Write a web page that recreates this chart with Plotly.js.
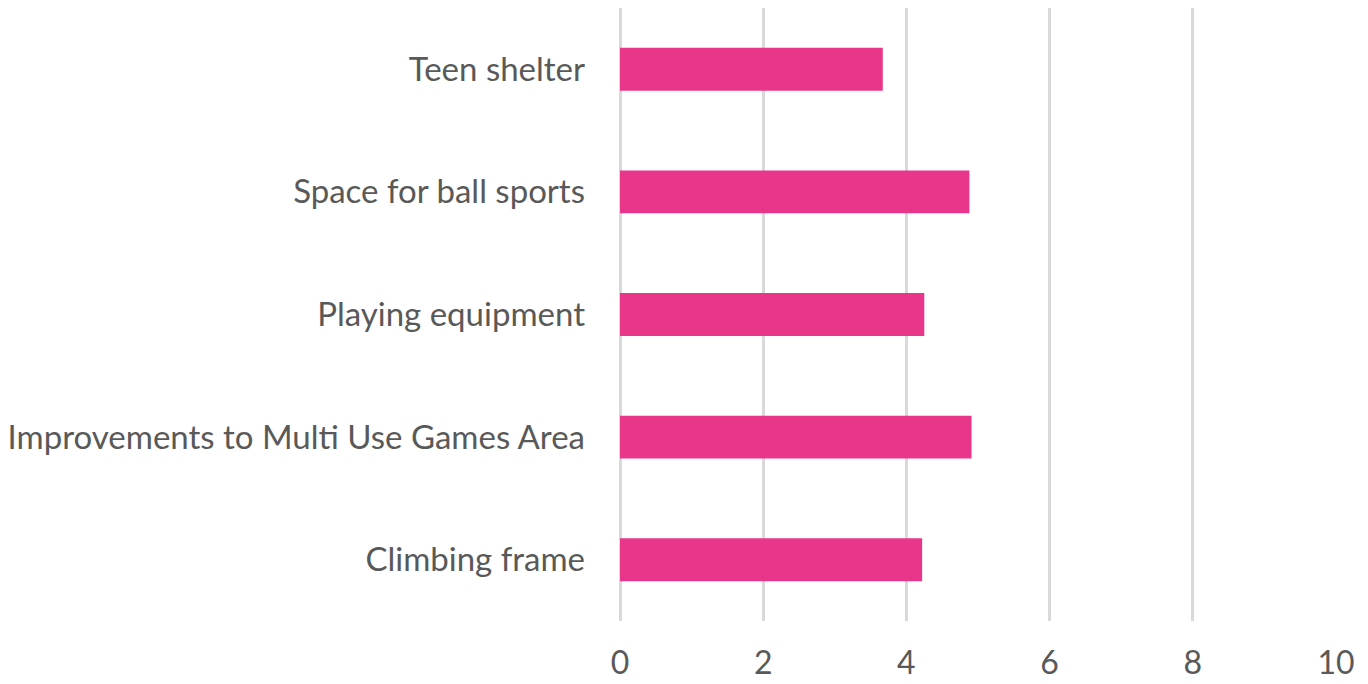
<!DOCTYPE html>
<html><head><meta charset="utf-8">
<script src="https://cdn.plot.ly/plotly-3.0.1.min.js"></script>
<style>html,body{margin:0;padding:0;background:#fff}#chart{width:1368px;height:684px}</style>
</head><body><div id="chart"></div>
<script>
const categories = ["Climbing frame", "Improvements to Multi Use Games Area", "Playing equipment", "Space for ball sports", "Teen shelter"];
const values = [4.22, 4.91, 4.25, 4.88, 3.67];
const xTicks = [0, 2, 4, 6, 8, 10];

Plotly.newPlot('chart', [{
  type: 'bar', orientation: 'h', y: categories, x: values,
  marker: {color: '#E8368A'}, hoverinfo: 'x+y'
}], {
  width: 1368, height: 684,
  margin: {l: 620, r: 32, t: 8, b: 63},
  paper_bgcolor: '#fff', plot_bgcolor: '#fff',
  bargap: 0.65, showlegend: false,
  font: {family: 'Lato, "Open Sans", sans-serif', color: '#595959', size: 33},
  xaxis: {range: [0, 10], tickvals: xTicks, showgrid: true, gridcolor: '#d9d9d9', gridwidth: 2.5,
          zeroline: true, zerolinecolor: '#d9d9d9', zerolinewidth: 2.5, showline: false,
          ticks: '', ticklabelstandoff: 20, tickfont: {size: 32, color: '#595959'}},
  yaxis: {type: 'category', showgrid: false, zeroline: false, showline: false, ticks: '',
          ticklabelstandoff: 34, tickfont: {size: 33, color: '#595959'}}
}, {displayModeBar: false});
</script></body></html>
